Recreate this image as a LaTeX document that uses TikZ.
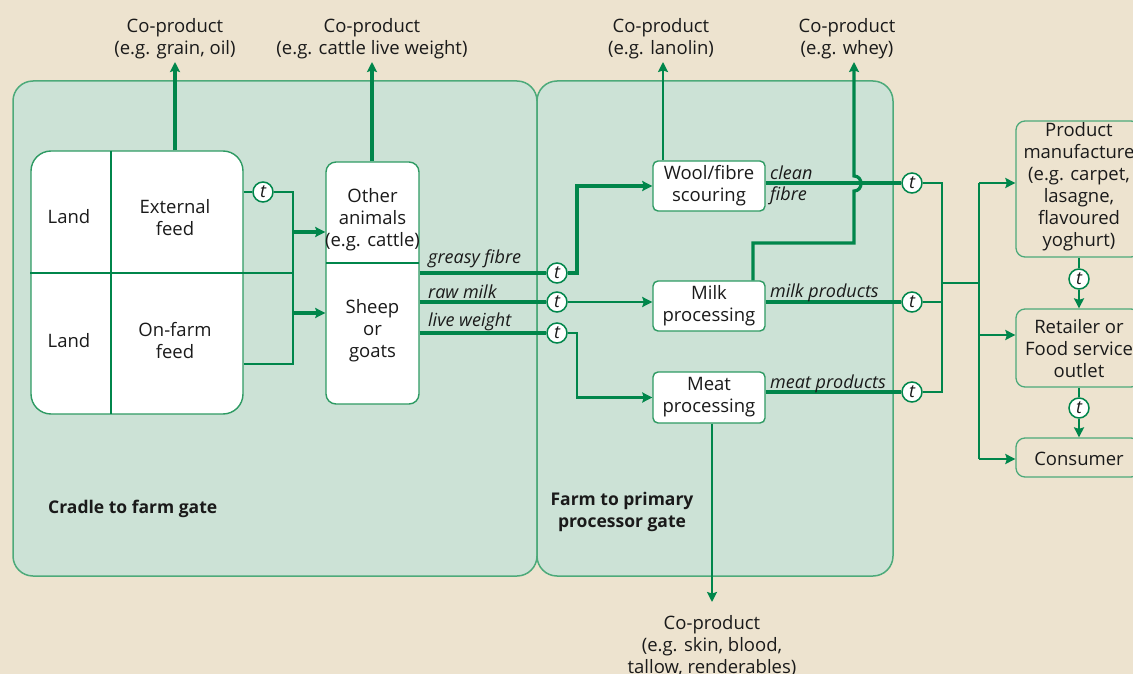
\documentclass[tikz,border=0pt]{standalone}
\usepackage{fontspec}
\setmainfont{Open Sans}
\usetikzlibrary{arrows.meta}
\definecolor{bg}{HTML}{EDE3CF}
\definecolor{panelfill}{HTML}{CCE2D6}
\definecolor{panelline}{HTML}{4DAA7A}
\definecolor{gline}{HTML}{00864B}
\definecolor{boxline}{HTML}{2E9A63}
\definecolor{txt}{HTML}{1A1A1A}
\tikzset{
  panel/.style={draw=panelline, fill=panelfill, line width=1.5pt, rounded corners=20pt},
  wbox/.style={draw=boxline, fill=white, line width=1.4pt, rounded corners=5pt, inner sep=0pt, align=center},
  rbox/.style={draw=panelline, fill=bg, line width=1.3pt, rounded corners=9pt, inner sep=0pt, align=center},
  tc/.style={circle, draw=gline, fill=white, line width=1.5pt, inner sep=0pt, minimum size=20pt, font=\fontsize{18}{18}\selectfont\itshape},
  thk/.style={draw=gline, line width=3.2pt},
  med/.style={draw=gline, line width=2.6pt},
  thn/.style={draw=gline, line width=1.5pt},
  arr/.style={-{Stealth[length=10pt,width=10pt,inset=1.5pt]}},
  lbl/.style={text=txt, align=center, inner sep=0pt},
  ilbl/.style={text=txt, inner sep=0pt, anchor=west, font=\fontsize{18}{20}\selectfont\itshape},
  blbl/.style={text=txt, inner sep=0pt, align=center, font=\fontsize{17.5}{22}\selectfont\bfseries},
}
\begin{document}
\begin{tikzpicture}[x=1pt,y=-1pt, font=\fontsize{18.5}{22}\selectfont, text=txt]
\useasboundingbox (0,0) rectangle (1133,674);
\clip (0,0) rectangle (1133,674);
\fill[bg] (0,0) rectangle (1133,674);

% panels
\draw[panel] (13,81) rectangle (537,576);
\draw[panel] (537,81) rectangle (893,576);

% land box
\node[wbox, rounded corners=20pt, minimum width=212pt, minimum height=263pt] (landbox) at (137,282.5) {};
\draw[thn] (111,151) -- (111,414);
\coordinate (jtop) at (293,192);
\coordinate (jmid) at (293,273);
\coordinate (jbot) at (293,364);
\draw[thn] (landbox.west |- jmid) -- (jmid);
\node[lbl] (land1) at (69,217) {Land};
\node[lbl] (ext) at (175,218) {External\\feed};
\node[lbl] (land2) at (69,341) {Land};
\node[lbl] (onf) at (175,341) {On-farm\\feed};

% animals box
\node[wbox, rounded corners=10pt, minimum width=93pt, minimum height=242pt] (animals) at (372.5,283) {};
\draw[thn] (326,263) -- (419,263);
\node[lbl] (other) at (372.5,220) {Other\\animals\\(e.g. cattle)};
\node[lbl] (sheep) at (372.5,331) {Sheep\\or\\goats};

% feed connectors
\node[tc] (t1) at (263,192) {t};
\draw[thn] (landbox.east |- t1) -- (t1) -- (jtop) -- (jbot) -- (landbox.east |- jbot);
\coordinate (ja) at (293,232);
\coordinate (jb) at (293,313);
\draw[thk, arr] (ja) -- (ja -| animals.west);
\draw[thk, arr] (jb) -- (jb -| animals.west);

% top co-products left
\coordinate (c1) at (175,62);
\coordinate (c2) at (372,62);
\draw[thk, arr] (c1 |- landbox.north) -- (c1);
\draw[thk, arr] (c2 |- animals.north) -- (c2);
\node[lbl] (cp1) at (175,39) {Co-product\\(e.g. grain, oil)};
\node[lbl] (cp2) at (372,39) {Co-product\\(e.g. cattle live weight)};

% processing boxes
\node[wbox, minimum width=112pt, minimum height=50pt] (wool) at (709,186) {Wool/fibre\\scouring};
\node[wbox, minimum width=112pt, minimum height=50pt] (milk) at (709,306) {Milk\\processing};
\node[wbox, minimum width=112pt, minimum height=51pt] (meat) at (709,397.5) {Meat\\processing};

% sheep outputs
\node[tc] (tg) at (557,273) {t};
\node[tc] (tm) at (557,302) {t};
\node[tc] (tl) at (557,333) {t};
\draw[thk] (tg -| animals.east) -- (tg);
\draw[thk] (tm -| animals.east) -- (tm);
\draw[thk] (tl -| animals.east) -- (tl);
\draw[thk, arr] (tg) -- ++(20,0) |- (wool.west);
\draw[med, arr] (tm) -- (tm -| milk.west);
\draw[med, arr] (tl) -- ++(20,0) |- (meat.west);
\node[ilbl] (lg) at (428,259) {greasy fibre};
\node[ilbl] (lm) at (428,292) {raw milk};
\node[ilbl] (ll) at (428,322) {live weight};

% co-products from processing
\coordinate (c3) at (663,62);
\draw[med, arr] (c3 |- wool.north) -- (c3);
\node[lbl] (cp3) at (661,39) {Co-product\\(e.g. lanolin)};
\coordinate (w1) at (753,243);
\coordinate (w2) at (854,243);
\coordinate (c4) at (854,62);
\node[lbl] (cp4) at (847,39) {Co-product\\(e.g. whey)};

% product lines
\node[tc] (tcf) at (912,183) {t};
\node[tc] (tmp) at (912,302) {t};
\node[tc] (tmt) at (912,392) {t};
\draw[thk] (tcf -| wool.east) -- (tcf);
\draw[thk] (tmp -| milk.east) -- (tmp);
\draw[thk] (tmt -| meat.east) -- (tmt);
\draw[thk, arr] (w1 |- milk.north) -- (w1) -- (w2) -- (854,191) to[out=0,in=0,looseness=1.6] (854,176) -- (c4);
\node[ilbl] (lc) at (770,173) {clean};
\node[ilbl] (lf) at (770,196) {fibre};
\node[ilbl] (lmp) at (770,293) {milk products};
\node[ilbl] (lmt) at (770,384) {meat products};

\coordinate (k1) at (942,183);
\coordinate (k2) at (942,302);
\coordinate (k3) at (942,392);
\coordinate (k4) at (942,283);
\coordinate (r0) at (979,283);
\coordinate (r1) at (979,183);
\coordinate (r2) at (979,335);
\coordinate (r3) at (979,459);
\draw[med] (tcf) -- (k1) -- (k3) -- (tmt);
\draw[med] (tmp) -- (k2);
\draw[med] (k4) -- (r0);
\draw[med] (r1) -- (r3);

% right boxes
\node[rbox, minimum width=124pt, minimum height=136pt] (pm) at (1078,189) {};
\node[lbl] (pmt) at (1079,187) {Product\\manufacture\\(e.g. carpet,\\lasagne,\\flavoured\\yoghurt)};
\node[rbox, minimum width=124pt, minimum height=78pt] (retail) at (1078,348) {};
\node[lbl] (rt) at (1079,349) {Retailer or\\Food service\\outlet};
\node[rbox, minimum width=124pt, minimum height=39pt] (cons) at (1078,457.5) {};
\node[lbl] (ct) at (1079,459) {Consumer};

\draw[med, arr] (r1) -- (r1 -| pm.west);
\draw[med, arr] (r2) -- (r2 -| retail.west);
\draw[med, arr] (r3) -- (r3 -| cons.west);

\node[tc] (tpr) at (1079,279) {t};
\node[tc] (trc) at (1079,408) {t};
\draw[med] (tpr |- pm.south) -- (tpr);
\draw[med, arr] (tpr) -- (tpr |- retail.north);
\draw[med] (trc |- retail.south) -- (trc);
\draw[med, arr] (trc) -- (trc |- cons.north);

% meat co-product
\coordinate (c5) at (712,602);
\draw[med, arr] (c5 |- meat.south) -- (c5);
\node[lbl, anchor=north] (cp5) at (712,615) {Co-product\\(e.g. skin, blood,\\tallow, renderables)};

% panel labels
\node[blbl, anchor=west] (pl1) at (48,509) {Cradle to farm gate};
\node[blbl] (pl2) at (622,512) {Farm to primary\\processor gate};
\end{tikzpicture}
\end{document}
